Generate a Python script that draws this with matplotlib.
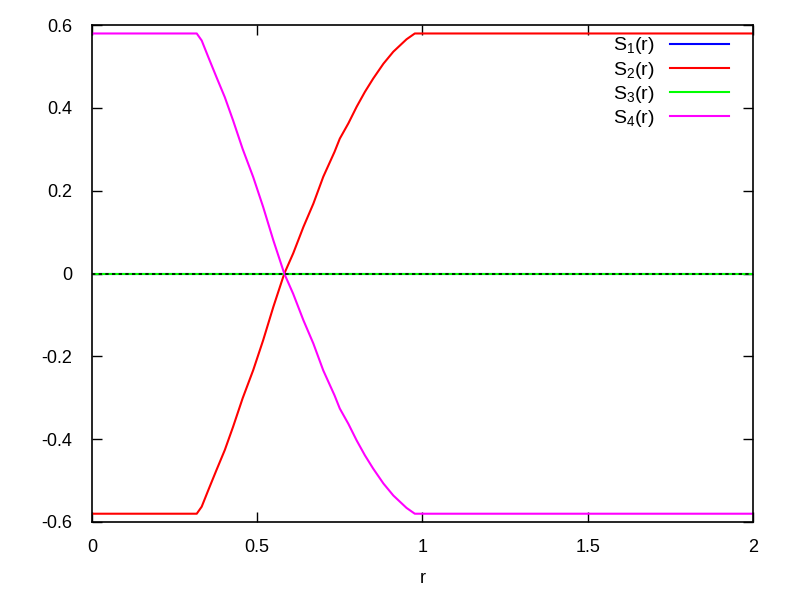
import matplotlib
matplotlib.use("Agg")
import matplotlib.pyplot as plt

r = [0.0, 0.317, 0.332, 0.352, 0.377, 0.402, 0.427, 0.456, 0.488, 0.518,
     0.549, 0.582, 0.609, 0.640, 0.670, 0.700, 0.734, 0.750, 0.776, 0.801,
     0.826, 0.851, 0.882, 0.912, 0.952, 0.977, 2.0]
S1 = [0.0] * len(r)
S2 = [-0.58, -0.58, -0.563, -0.523, -0.474, -0.426, -0.370, -0.301, -0.233, -0.161,
      -0.080, 0.0, 0.049, 0.113, 0.169, 0.234, 0.294, 0.326, 0.363, 0.403,
      0.439, 0.471, 0.507, 0.536, 0.566, 0.58, 0.58]
S3 = [0.0] * len(r)
S4 = [0.58, 0.58, 0.563, 0.523, 0.474, 0.426, 0.370, 0.301, 0.233, 0.161,
      0.080, 0.0, -0.049, -0.113, -0.169, -0.234, -0.294, -0.326, -0.363, -0.403,
      -0.439, -0.471, -0.507, -0.536, -0.566, -0.58, -0.58]
labels = [r'S$_1$(r)', r'S$_2$(r)', r'S$_3$(r)', r'S$_4$(r)']
colors = ['#0000ff', '#ff0000', '#00ff00', '#ff00ff']
xticks = [0, 0.5, 1, 1.5, 2]
yticks = [-0.6, -0.4, -0.2, 0, 0.2, 0.4, 0.6]

plt.rcParams['font.family'] = ['Liberation Sans', 'DejaVu Sans']
plt.rcParams['mathtext.fontset'] = 'custom'
plt.rcParams['mathtext.rm'] = 'Liberation Sans'
plt.rcParams['mathtext.it'] = 'Liberation Sans'

fig = plt.figure(figsize=(8, 6), dpi=100)
ax = fig.add_axes([0.115, 0.13, 0.826, 0.828])

for ys, lab, c in zip([S1, S2, S3, S4], labels, colors):
    ax.plot(r, ys, color=c, lw=1.5, label=lab)

ax.axhline(0, color='black', lw=1.2, ls=(0, (2, 2)), zorder=5)

ax.set_xlim(0, 2)
ax.set_ylim(-0.6, 0.6)
ax.set_xticks(xticks)
ax.set_xticklabels(['0', '0.5', '1', '1.5', '2'])
ax.set_yticks(yticks)
ax.set_yticklabels(['-0.6', '-0.4', '-0.2', '0', '0.2', '0.4', '0.6'])
ax.tick_params(direction='in', top=True, right=True, length=7, width=1,
               labelsize=13)
ax.tick_params(axis='y', pad=14)
ax.tick_params(axis='x', pad=12)
for s in ax.spines.values():
    s.set_linewidth(1.2)
ax.set_xlabel('r', fontsize=13, labelpad=10)

leg = ax.legend(loc='upper right', bbox_to_anchor=(0.975, 0.995), frameon=False,
                markerfirst=False, fontsize=14, handlelength=3.0,
                labelspacing=0.16, borderaxespad=0.0, handletextpad=0.8)

fig.savefig('out.png', dpi=100)
